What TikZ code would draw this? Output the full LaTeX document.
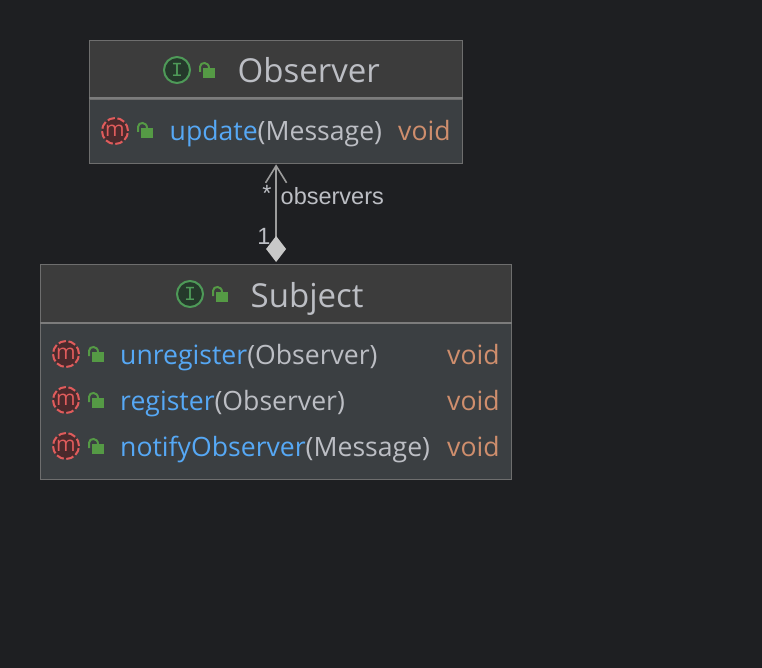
\documentclass[tikz,border=0pt]{standalone}
\usepackage{fontspec}
\setmainfont{Open Sans}
\newfontfamily\labelfont{Liberation Sans}
\newfontfamily\iconfont{Liberation Mono}
\usetikzlibrary{arrows.meta,positioning}
\definecolor{canvas}{HTML}{1E1F22}
\definecolor{headfill}{HTML}{3C3C3C}
\definecolor{bodyfill}{HTML}{3B3F42}
\definecolor{edgegray}{HTML}{6E6E6E}
\definecolor{rulegray}{HTML}{7C7C7C}
\definecolor{plaintext}{HTML}{BCBEC4}
\definecolor{methodblue}{HTML}{56A8F5}
\definecolor{voidorange}{HTML}{CF8E6D}
\definecolor{lockgreen}{HTML}{559A45}
\definecolor{ifacegreen}{HTML}{4E9A58}
\definecolor{ifacefill}{HTML}{25392B}
\definecolor{methodred}{HTML}{E05C5C}
\definecolor{methodfill}{HTML}{4A2A2C}
\definecolor{linkgray}{HTML}{9C9C9C}
\definecolor{diamondgray}{HTML}{C8C8C8}
\tikzset{
    headbox/.style={draw=edgegray,line width=1.4pt,fill=headfill,inner sep=0pt,minimum height=58.5pt},
    bodybox/.style={draw=edgegray,line width=1.4pt,fill=bodyfill,inner sep=0pt},
    divider/.style={draw=rulegray,line width=2pt},
    ifaceicon/.style={circle,draw=ifacegreen,fill=ifacefill,line width=2pt,minimum size=26pt,inner sep=0pt,
        text=ifacegreen,font=\iconfont\fontsize{20}{20}\selectfont},
    methicon/.style={circle,draw=methodred,fill=methodfill,line width=2pt,dash pattern=on 7.6pt off 2.6pt,
        minimum size=26pt,inner sep=0pt,text=methodred,font=\fontsize{21}{21}\selectfont},
    title/.style={anchor=base west,inner sep=0pt,text=plaintext,font=\fontsize{33}{33}\selectfont},
    member/.style={anchor=base west,inner sep=0pt,text=plaintext,font=\fontsize{26.6}{26.6}\selectfont},
    rettype/.style={member,text=voidorange},
    tag/.style={inner sep=0pt,text=plaintext,font=\labelfont\fontsize{23.5}{23.5}\selectfont},
    assoc/.style={draw=linkgray,line width=2pt,shorten <=2pt,
        {Diamond[length=26pt,width=20pt,color=diamondgray,fill=diamondgray,line width=0pt]}-{Straight Barb[length=17pt,width=21pt,line width=1.6pt]}},
    lock/.pic={
        \fill[lockgreen] (-6,-5) rectangle (6,5);
        \draw[lockgreen,line width=2pt] (-9,-1) -- (-9,-6) .. controls (-9,-11.5) and (0,-11.5) .. (0,-5);
    }
}
\newcommand{\meth}[1]{\textcolor{methodblue}{#1}}
\begin{document}
\begin{tikzpicture}[x=1pt,y=-1pt]

    \fill[canvas] (0,0) rectangle (762,668);
    \useasboundingbox (0,0) rectangle (762,668);

    % Observer
    \node[headbox,minimum width=372.8pt,anchor=north west] (obsHead) at (89,40) {};
    \node[bodybox,minimum width=372.8pt,minimum height=64.4pt,anchor=north west] (obsBody) at (89,98.5) {};
    \draw[divider] (obsBody.north west) -- (obsBody.north east);
    \node[ifaceicon] (obsIcon) at (177,70) {I};
    \pic at (209,73) {lock};
    \node[title] (obsTitle) at (237.5,83) {Observer};
    \node[methicon] (updateIcon) at (115,131) {m};
    \pic at (147,133) {lock};
    \node[member] (update) at (169.5,141) {\meth{update}(Message)};
    \node[rettype] (updateVoid) at (398,141) {void};

    % Subject
    \node[headbox,minimum width=470.8pt,anchor=north west] (subHead) at (40,264) {};
    \node[bodybox,minimum width=470.8pt,minimum height=156.4pt,anchor=north west] (subBody) at (40,322.5) {};
    \draw[divider] (subBody.north west) -- (subBody.north east);
    \node[ifaceicon] (subIcon) at (190,294) {I};
    \pic at (222,297) {lock};
    \node[title] (subTitle) at (250.5,307) {Subject};
    \foreach \y/\name/\sig in {354/unreg/{\meth{unregister}(Observer)},
                               400/reg/{\meth{register}(Observer)},
                               446/notify/{\meth{notifyObserver}(Message)}} {
        \node[methicon] (\name Icon) at (66,\y) {m};
        \pic at (98,\y+3) {lock};
        \node[member] (\name) at (120,\y+10) {\sig};
        \node[rettype] (\name Void) at (447,\y+10) {void};
    }

    % link
    \draw[assoc] (subHead.north) -- (obsBody.south);
    \node[tag] (manyTag) at (267,193) {*};
    \node[tag,anchor=west] (obsTag) at (280.5,196) {observers};
    \node[tag] (oneTag) at (264,236) {1};

\end{tikzpicture}
\end{document}
